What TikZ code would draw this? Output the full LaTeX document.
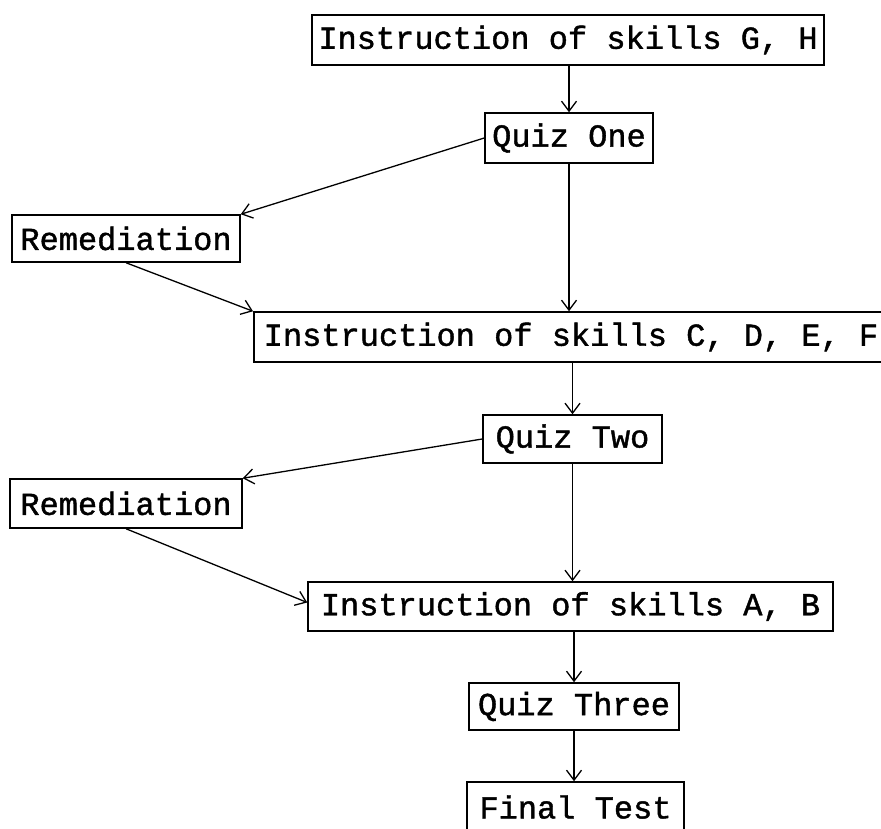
\documentclass[tikz,border=0pt]{standalone}
\usepackage{fontspec}
\newfontfamily\twfont[FakeBold=1.3]{Liberation Mono}
\usetikzlibrary{arrows.meta}
\tikzset{
  box/.style={draw, line width=1.5pt, inner sep=0pt, minimum height=50pt,
    font=\twfont\fontsize{32}{36}\selectfont},
  arr/.style={line width=1.3pt, -{Straight Barb[length=10pt,width=15pt,line width=1.3pt]}}
}
\begin{document}
\begin{tikzpicture}[x=1pt,y=-1pt]
\useasboundingbox (0,0) rectangle (881,829);
\fill[white] (0,0) rectangle (881,829);
\clip (0,0) rectangle (881,829);
\node[box, minimum width=512pt] (b1) at (568,40) {Instruction of skills G, H};
\node[box, minimum width=168pt] (q1) at (569,138) {Quiz One};
\node[box, minimum width=228pt, minimum height=47pt] (r1) at (126,238.5) {Remediation};
\node[box, anchor=west, inner xsep=10pt] (b2) at (253,337) {\makebox[630pt][l]{Instruction of skills C, D, E, F}};
\node[box, minimum width=179pt, minimum height=48pt] (q2) at (572.5,439) {Quiz Two};
\node[box, minimum width=232pt, minimum height=49pt] (r2) at (126,503.5) {Remediation};
\node[box, minimum width=525pt, minimum height=49pt] (b3) at (570.5,606.5) {Instruction of skills A, B};
\node[box, minimum width=210pt, minimum height=47pt] (q3) at (574,706.5) {Quiz Three};
\node[box, minimum width=217pt] (ft) at (575.5,807) {Final Test};
\draw[arr] (b1.south -| q1.north) -- (q1.north);
\draw[arr] (q1.west) -- (r1.north east);
\draw[arr] (r1.south) -- (b2.north west);
\draw[arr] (q1.south) -- (q1.south |- b2.north);
\draw[arr] (q2.north |- b2.south) -- (q2.north);
\draw[arr] (q2.west) -- (r2.north east);
\draw[arr] (r2.south) -- ([yshift=4pt]b3.west);
\draw[arr] (q2.south) -- (q2.south |- b3.north);
\draw[arr] (b3.south -| q3.north) -- (q3.north);
\draw[arr] (q3.south) -- (q3.south |- ft.north);
\end{tikzpicture}
\end{document}
